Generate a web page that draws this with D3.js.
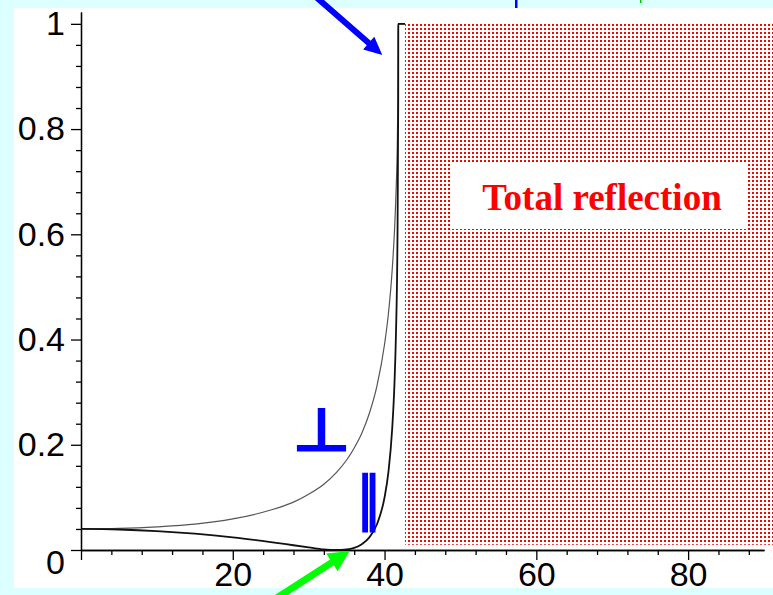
<!DOCTYPE html>
<html>
    <head>
        <title>Reflectance</title>
        <meta charset="utf-8">
        <script src="https://d3js.org/d3.v7.min.js"></script>
        <style>
            body{
                margin: 0;
                background: #dcffff;
            }
            svg#viz{
                display: block;
            }
            .axis path, .axis line{
                stroke: #000;
                stroke-width: 1.3px;
            }
            .axis text{
                font-family: 'Liberation Sans', Arial, sans-serif;
                font-size: 34px;
                fill: #000;
            }
        </style>
    </head>
    <body>
    <svg id="viz" width="773" height="595"></svg>
    <script>
        // DATA (angle of incidence in degrees, reflectance)
        var angles = [0, 5, 10, 15, 20, 25, 28, 30, 32, 33.7, 35, 36, 37, 38, 39, 40, 40.5, 41, 41.3, 41.5, 41.7, 41.8, 41.81, 42.7];
        var rPerp  = [0.040, 0.041, 0.044, 0.049, 0.059, 0.076, 0.091, 0.106, 0.125, 0.148, 0.171, 0.194, 0.222, 0.260, 0.312, 0.391, 0.448, 0.531, 0.604, 0.675, 0.791, 0.931, 1, 1];
        var rPar   = [0.040, 0.039, 0.036, 0.031, 0.024, 0.015, 0.009, 0.005, 0.001, 0.000, 0.001, 0.004, 0.011, 0.024, 0.049, 0.100, 0.147, 0.229, 0.314, 0.408, 0.589, 0.851, 1, 1];

        var xTicks = [0, 20, 40, 60, 80];
        var xTickLabels = ["", "20", "40", "60", "80"];
        var yTicks = [0, 0.2, 0.4, 0.6, 0.8, 1];
        var yTickLabels = ["0", "0.2", "0.4", "0.6", "0.8", "1"];

        var totalRange = [42.7, 91.2];      // angles of the shaded region
        var totalLevels = [0.01, 1];
        var boxLabel = "Total reflection";

        draw();

        function draw(){
            // SETUP
            var svg = d3.select("#viz");

            var x = d3.scaleLinear().domain([0, 90]).range([81, 764]),
                y = d3.scaleLinear().domain([0, 1.0225]).range([550, 12]);

            svg.append("rect")
                .attr("x", 14).attr("y", 8)
                .attr("width", 773 - 14).attr("height", 580)
                .attr("fill", "#fff");

            var defs = svg.append("defs");
            var pat = defs.append("pattern")
                .attr("id", "dots")
                .attr("patternUnits", "userSpaceOnUse")
                .attr("width", 4).attr("height", 4);
            pat.append("rect").attr("width", 4).attr("height", 4).attr("fill", "#fff");
            pat.append("rect").attr("width", 2).attr("height", 2).attr("fill", "#ff0000")
                .attr("shape-rendering", "crispEdges");

            // AXES
            var minorX = d3.range(4, 90, 4).filter(function(d){ return d % 20 !== 0; });
            var minorY = d3.range(1, 26).map(function(i){ return i * 0.04; })
                .filter(function(d){ return Math.abs(d * 5 - Math.round(d * 5)) > 1e-6; });

            svg.append("g")
                .attr("class", "axis")
                .attr("transform", "translate(0," + y(0) + ")")
                .call(d3.axisBottom(x).tickValues(minorX).tickSize(5).tickSizeOuter(0).tickFormat(""));

            svg.append("g")
                .attr("class", "axis")
                .attr("transform", "translate(0," + y(0) + ")")
                .call(d3.axisBottom(x).tickValues(xTicks).tickSize(10).tickSizeOuter(0).tickPadding(2)
                    .tickFormat(function(d, i){ return xTickLabels[i]; }));

            svg.append("g")
                .attr("class", "axis")
                .attr("transform", "translate(" + x(0) + ",0)")
                .call(d3.axisLeft(y).tickValues(minorY).tickSize(5).tickSizeOuter(0).tickFormat(""));

            var yAxis = svg.append("g")
                .attr("class", "axis")
                .attr("transform", "translate(" + x(0) + ",0)")
                .call(d3.axisLeft(y).tickValues(yTicks).tickSize(10).tickSizeOuter(0).tickPadding(6)
                    .tickFormat(function(d, i){ return yTickLabels[i]; }));

            // the 0 label sits below the x axis
            yAxis.selectAll(".tick text")
                .filter(function(d){ return d === 0; })
                .attr("dy", "0.7em");

            // CURVES
            var line = d3.line()
                .x(function(d){ return x(d[0]); })
                .y(function(d){ return y(d[1]); })
                .curve(d3.curveMonotoneX);

            svg.append("path")
                .datum(angles.map(function(a, i){ return [a, rPerp[i]]; }))
                .attr("d", line)
                .attr("fill", "none")
                .attr("stroke", "#555")
                .attr("stroke-width", 1.2);

            svg.append("path")
                .datum(angles.map(function(a, i){ return [a, rPar[i]]; }))
                .attr("d", line)
                .attr("fill", "none")
                .attr("stroke", "#111")
                .attr("stroke-width", 1.8);

            // TOTAL REFLECTION REGION
            svg.append("rect")
                .attr("x", x(totalRange[0]))
                .attr("y", y(totalLevels[1]))
                .attr("width", x(totalRange[1]) - x(totalRange[0]))
                .attr("height", y(totalLevels[0]) - y(totalLevels[1]))
                .attr("fill", "url(#dots)");

            svg.append("rect")
                .attr("x", 451).attr("y", 163)
                .attr("width", 295).attr("height", 66)
                .attr("fill", "#fff");

            svg.append("text")
                .attr("x", 602).attr("y", 210)
                .attr("text-anchor", "middle")
                .style("font-family", "'Liberation Serif', 'Times New Roman', serif")
                .style("font-weight", "bold")
                .style("font-size", "37px")
                .attr("fill", "#ff0000")
                .text(boxLabel);

            // POLARISATION SYMBOLS
            svg.append("text")
                .attr("x", 293).attr("y", 450)
                .attr("textLength", 57).attr("lengthAdjust", "spacingAndGlyphs")
                .style("font-family", "'DejaVu Sans', sans-serif")
                .style("font-size", "58px")
                .attr("fill", "#0000ff")
                .attr("stroke", "#0000ff").attr("stroke-width", 3)
                .text("\u22A5");

            svg.append("text")
                .attr("x", 357).attr("y", 519)
                .attr("textLength", 24).attr("lengthAdjust", "spacingAndGlyphs")
                .style("font-family", "'DejaVu Sans', sans-serif")
                .style("font-size", "58px")
                .attr("fill", "#0000ff")
                .attr("stroke", "#0000ff").attr("stroke-width", 2.5)
                .text("\u2225");

            // ARROWS
            arrow(svg, 316, -3, x(39.7), y(0.941), "#0000ff", 6, 18, 17);
            arrow(svg, 272, 601, x(35.4), y(-0.002), "#00ff00", 7, 21, 21);

            // clipped marks at the top edge
            svg.append("rect").attr("x", 515).attr("y", 0).attr("width", 2.5).attr("height", 8).attr("fill", "#0000ff");
            svg.append("rect").attr("x", 640).attr("y", 0).attr("width", 1.5).attr("height", 3).attr("fill", "#00cc00");
        }

        function arrow(svg, x1, y1, x2, y2, color, w, headL, headW){
            var dx = x2 - x1, dy = y2 - y1,
                len = Math.sqrt(dx * dx + dy * dy),
                ux = dx / len, uy = dy / len,
                px = -uy, py = ux,
                bx = x2 - ux * headL, by = y2 - uy * headL;

            var pts = [
                [x1 + px * w / 2, y1 + py * w / 2],
                [bx + px * w / 2, by + py * w / 2],
                [bx + px * headW / 2, by + py * headW / 2],
                [x2, y2],
                [bx - px * headW / 2, by - py * headW / 2],
                [bx - px * w / 2, by - py * w / 2],
                [x1 - px * w / 2, y1 - py * w / 2]
            ];

            svg.append("polygon")
                .attr("points", pts.map(function(p){ return p.join(","); }).join(" "))
                .attr("fill", color);
        }
    </script>
    </body>
</html>
